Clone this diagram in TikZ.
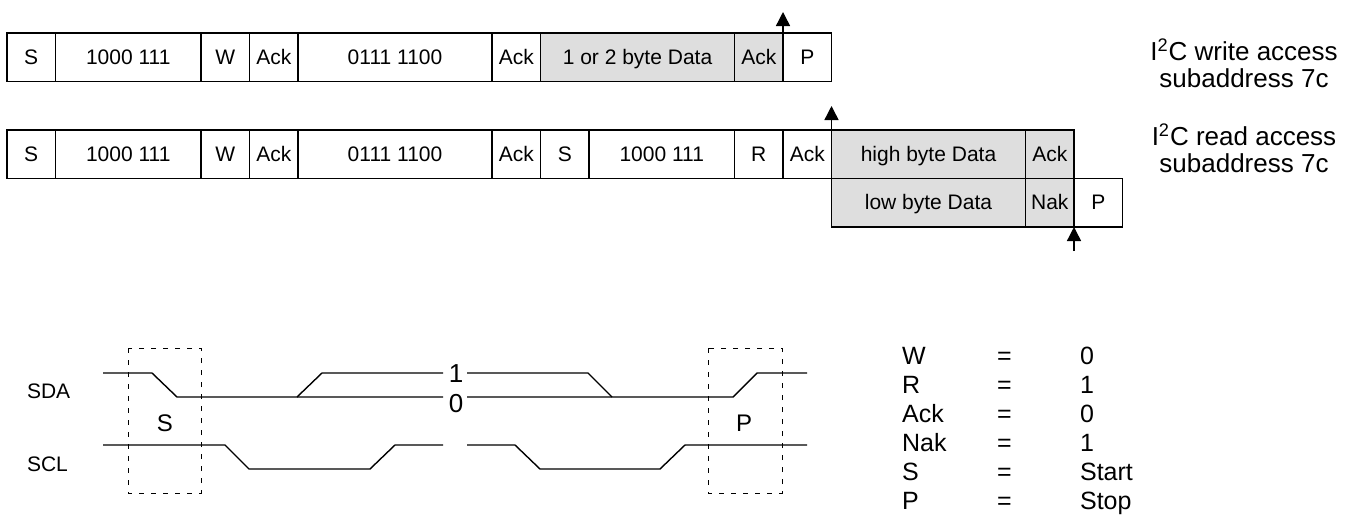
\documentclass[tikz,border=0pt]{standalone}
\usepackage{fontspec}
\setmainfont{Liberation Sans}
\usetikzlibrary{arrows.meta}
\definecolor{datagray}{gray}{0.87}
\newcommand{\unitw}{24.25pt}

\begin{document}
\begin{tikzpicture}[x=0.5pt, y=-0.5pt,
    field/.style={draw, line width=0.7pt, anchor=north west, inner sep=0pt, outer sep=0pt,
      minimum height=\unitw, text height=7.6pt, text depth=0.4pt,
      font=\fontsize{10.5}{12}\selectfont},
    sigarrow/.style={line width=0.7pt, -{Triangle[length=7pt, width=7pt]}},
    wave/.style={line width=0.7pt},
    window/.style={line width=0.5pt, dash pattern=on 2.5pt off 3.5pt},
    lbl/.style={font=\fontsize{13}{13.5}\selectfont},
    key/.style={anchor=base west, font=\fontsize{12.5}{14}\selectfont}]
  \useasboundingbox (0,0) rectangle (1348,515);

  % write access
  \foreach \k/\n/\t/\f [count=\i] in {0/1/S/white, 1/3/1000 111/white, 4/1/W/white,
      5/1/Ack/white, 6/4/0111 1100/white, 10/1/Ack/white, 11/4/1 or 2 byte Data/datagray,
      15/1/Ack/datagray, 16/1/P/white}
    \node[field, fill=\f, minimum width=\n*\unitw] (w\i) at ({7+48.5*\k},33) {\t};

  % read access
  \foreach \k/\n/\t/\f [count=\i] in {0/1/S/white, 1/3/1000 111/white, 4/1/W/white,
      5/1/Ack/white, 6/4/0111 1100/white, 10/1/Ack/white, 11/1/S/white,
      12/3/1000 111/white, 15/1/R/white, 16/1/Ack/white,
      17/4/high byte Data/datagray, 21/1/Ack/datagray}
    \node[field, fill=\f, minimum width=\n*\unitw] (r\i) at ({7+48.5*\k},130) {\t};
  \foreach \k/\n/\t/\f [count=\i] in {17/4/low byte Data/datagray, 21/1/Nak/datagray, 22/1/P/white}
    \node[field, fill=\f, minimum width=\n*\unitw] (lo\i) at ({7+48.5*\k},178.5) {\t};

  \coordinate (wtip) at (783,12);
  \coordinate (rtip) at (831.5,106);
  \coordinate (ltail) at (1074,251);
  \draw[sigarrow] (w9.north west) -- (wtip);
  \draw[sigarrow] (r11.north west) -- (rtip);
  \draw[sigarrow] (ltail) -- (lo2.south east);

  \node[lbl, align=center] (wrlabel) at (1244,63) {I\textsuperscript{2}C write access\\subaddress 7c};
  \node[lbl, align=center] (rdlabel) at (1244,148) {I\textsuperscript{2}C read access\\subaddress 7c};

  % timing
  \node[anchor=west, font=\fontsize{10.5}{12}\selectfont] (sda) at (20,391) {SDA};
  \node[anchor=west, font=\fontsize{10.5}{12}\selectfont] (scl) at (20,464) {SCL};
  \draw[wave] (103,373) -- (152,373) -- (177,397) -- (443,397);
  \draw[wave] (297,397) -- (322,373) -- (443,373);
  \draw[wave] (467,373) -- (588,373) -- (612,397);
  \draw[wave] (467,397) -- (733,397) -- (757,373) -- (807,373);
  \draw[wave] (103,445) -- (225,445) -- (249,469) -- (370,469) -- (395,445) -- (443,445);
  \draw[wave] (467,445) -- (515,445) -- (540,469) -- (660,469) -- (685,445) -- (807,445);
  \node[lbl] (one) at (456,374) {1};
  \node[lbl] (zero) at (456,404) {0};
  \draw[window] (128,348) rectangle (201,493);
  \draw[window] (708,348) rectangle (782,493);
  \node[font=\fontsize{12}{14}\selectfont] (start) at (165,423) {S};
  \node[font=\fontsize{12}{14}\selectfont] (stop) at (744,423) {P};

  % legend
  \foreach \n/\v [count=\i] in {W/0, R/1, Ack/0, Nak/1, S/Start, P/Stop} {
    \node[key] (key\i) at (895,{364+29*(\i-1)}) {\n};
    \node[key] (eq\i) at (990,{364+29*(\i-1)}) {=};
    \node[key] (val\i) at (1073,{364+29*(\i-1)}) {\v};
  }
\end{tikzpicture}
\end{document}
